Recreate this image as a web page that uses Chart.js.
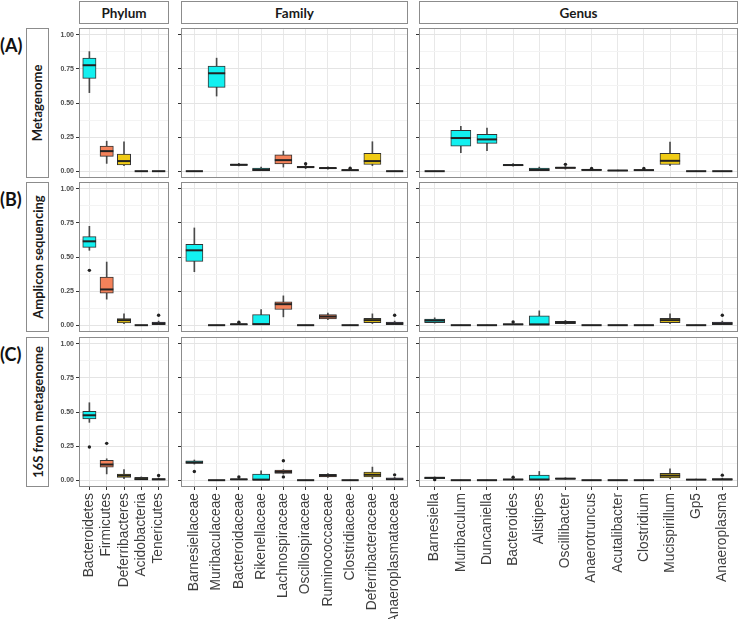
<!DOCTYPE html>
<html>
<head>
<meta charset="utf-8">
<script src="https://cdn.jsdelivr.net/npm/chart.js@4.4.1/dist/chart.umd.min.js"></script>
<style>
  body { margin: 0; background: #fff; width: 740px; height: 619px; position: relative; overflow: hidden; font-family: Lato, 'Open Sans', sans-serif; }
  canvas { position: absolute; }
  .strip { position: absolute; box-sizing: border-box; border: 1px solid #8c8c8c; background: #fff;
           display: flex; align-items: center; justify-content: center; font-weight: bold; font-size: 13.5px; color: #1a1a1a; }
  .strip.v span { transform: rotate(-90deg); white-space: nowrap; font-size: 13px; }
  .tag { position: absolute; left: 0; font-weight: bold; font-size: 18px; color: #111; line-height: 20px; }
</style>
</head>
<body>
<script>
// ─── Categories ──────────────────────────────────────────────────────────────
const phylumLabels = ['Bacteroidetes', 'Firmicutes', 'Deferribacteres', 'Acidobacteria', 'Tenericutes'];
const familyLabels = ['Barnesiellaceae', 'Muribaculaceae', 'Bacteroidaceae', 'Rikenellaceae', 'Lachnospiraceae',
  'Oscillospiraceae', 'Ruminococcaceae', 'Clostridiaceae', 'Deferribacteraceae', 'Anaeroplasmataceae'];
const genusLabels = ['Barnesiella', 'Muribaculum', 'Duncaniella', 'Bacteroides', 'Alistipes', 'Oscillibacter',
  'Anaerotruncus', 'Acutalibacter', 'Clostridium', 'Mucispirillum', 'Gp5', 'Anaeroplasma'];
const levelTitles = ['Phylum', 'Family', 'Genus'];
const rowTitles = ['Metagenome', 'Amplicon sequencing', '16S from metagenome'];
const rowTags = ['(A)', '(B)', '(C)'];
const yTickValues = [0, 0.125, 0.25, 0.375, 0.5, 0.625, 0.75, 0.875, 1];
const yMajorTicks = [0, 0.25, 0.5, 0.75, 1];

// box stats per taxon: [lower whisker, Q1, median, Q3, upper whisker]
const metaPhylum = [[0.576, 0.68, 0.777, 0.829, 0.877], [0.057, 0.108, 0.147, 0.184, 0.22],
  [0.04, 0.046, 0.074, 0.125, 0.216], [0, 0, 0, 0, 0], [0, 0, 0, 0, 0]];
const metaFamily = [[0, 0, 0, 0, 0], [0.551, 0.615, 0.718, 0.77, 0.829], [0.038, 0.043, 0.047, 0.051, 0.058],
  [0, 0.003, 0.01, 0.022, 0.03], [0.03, 0.054, 0.081, 0.12, 0.147], [0.018, 0.025, 0.03, 0.035, 0.042],
  [0.014, 0.019, 0.023, 0.027, 0.031], [0.003, 0.006, 0.008, 0.01, 0.013], [0.04, 0.049, 0.074, 0.13, 0.216],
  [0, 0, 0, 0, 0]];
const metaGenus = [[0, 0, 0, 0, 0], [0.135, 0.184, 0.243, 0.299, 0.329], [0.15, 0.204, 0.233, 0.27, 0.316],
  [0.036, 0.041, 0.045, 0.049, 0.056], [0, 0.003, 0.01, 0.022, 0.03], [0.015, 0.02, 0.025, 0.029, 0.035],
  [0.004, 0.007, 0.009, 0.011, 0.014], [0.002, 0.004, 0.005, 0.006, 0.008], [0.003, 0.006, 0.008, 0.01, 0.013],
  [0.04, 0.049, 0.076, 0.13, 0.213], [0, 0, 0, 0, 0], [0, 0, 0, 0, 0]];

const ampPhylum = [[0.549, 0.571, 0.615, 0.649, 0.725], [0.191, 0.235, 0.262, 0.353, 0.463],
  [0.012, 0.017, 0.037, 0.049, 0.083], [0, 0, 0, 0, 0], [0, 0.003, 0.012, 0.022, 0.03]];
const ampFamily = [[0.392, 0.468, 0.549, 0.593, 0.713], [0, 0, 0, 0, 0], [0, 0.004, 0.007, 0.01, 0.014],
  [0, 0.002, 0.008, 0.078, 0.115], [0.061, 0.115, 0.154, 0.171, 0.215], [0, 0, 0, 0, 0],
  [0.04, 0.046, 0.063, 0.078, 0.088], [0, 0, 0, 0, 0], [0.012, 0.018, 0.037, 0.05, 0.083],
  [0, 0.003, 0.012, 0.022, 0.03]];
const ampGenus = [[0.015, 0.019, 0.034, 0.044, 0.054], [0, 0, 0, 0, 0], [0, 0, 0, 0, 0],
  [0, 0.003, 0.006, 0.009, 0.012], [0, 0.001, 0.006, 0.068, 0.105], [0.008, 0.012, 0.02, 0.029, 0.035],
  [0, 0, 0, 0, 0], [0, 0, 0, 0, 0], [0, 0, 0, 0, 0], [0.012, 0.018, 0.037, 0.05, 0.083], [0, 0, 0, 0, 0],
  [0, 0.003, 0.012, 0.022, 0.03]];

const s16Phylum = [[0.424, 0.449, 0.476, 0.505, 0.568], [0.046, 0.096, 0.115, 0.145, 0.157],
  [0.012, 0.02, 0.034, 0.044, 0.078], [0, 0.002, 0.008, 0.02, 0.024], [0, 0.002, 0.006, 0.012, 0.016]];
const s16Family = [[0.118, 0.123, 0.13, 0.142, 0.148], [0, 0, 0, 0, 0], [0, 0.003, 0.006, 0.009, 0.012],
  [0, 0.001, 0.004, 0.044, 0.069], [0.045, 0.049, 0.061, 0.074, 0.078], [0, 0, 0, 0, 0],
  [0.02, 0.024, 0.034, 0.042, 0.048], [0, 0, 0, 0, 0], [0.012, 0.024, 0.04, 0.059, 0.096],
  [0, 0.003, 0.007, 0.017, 0.02]];
const s16Genus = [[0.01, 0.012, 0.017, 0.022, 0.024], [0, 0, 0, 0, 0], [0, 0, 0, 0, 0],
  [0, 0.002, 0.005, 0.008, 0.01], [0, 0.002, 0.005, 0.037, 0.064], [0.006, 0.008, 0.011, 0.015, 0.018],
  [0, 0, 0, 0, 0], [0, 0, 0, 0, 0], [0, 0, 0, 0, 0], [0.012, 0.017, 0.034, 0.051, 0.083],
  [0, 0.002, 0.004, 0.006, 0.008], [0, 0.002, 0.005, 0.012, 0.015]];

// outliers: [category index, value]
const metaPhylumOut = [];
const metaFamilyOut = [[5, 0.054], [7, 0.021]];
const metaGenusOut = [[5, 0.05], [6, 0.02], [8, 0.02]];
const ampPhylumOut = [[0, 0.402], [4, 0.073]];
const ampFamilyOut = [[2, 0.022], [9, 0.073]];
const ampGenusOut = [[3, 0.024], [11, 0.073]];
const s16PhylumOut = [[0, 0.243], [1, 0.27], [4, 0.034]];
const s16FamilyOut = [[0, 0.064], [2, 0.024], [4, 0.142], [4, 0.024], [9, 0.039]];
const s16GenusOut = [[0, 0.004], [3, 0.022], [11, 0.037]];

// ─── Styles ──────────────────────────────────────────────────────────────────
const CYAN = '#12F0F0', CORAL = '#F4825A', GOLD = '#F0CB14', OLIVE = '#A9B84A', PURPLE = '#9C8AD8';
const phylumColors = [CYAN, CORAL, GOLD, OLIVE, PURPLE];
const familyColors = [CYAN, CYAN, CYAN, CYAN, CORAL, CORAL, CORAL, CORAL, GOLD, PURPLE];
const genusColors = [CYAN, CYAN, CYAN, CYAN, CYAN, CORAL, CORAL, CORAL, CORAL, GOLD, OLIVE, PURPLE];

const EXPAND = 0.6;
const panelX = [79, 181, 419];
const panelW = [90, 227, 319];
const panelY = [28, 182, 337];
const panelH = 150;
const xAxisH = 132;
const axisFont = "'Liberation Sans', Arial, sans-serif";

const levels = [phylumLabels, familyLabels, genusLabels];
const levelColors = [phylumColors, familyColors, genusColors];
const statsGrid = [[metaPhylum, metaFamily, metaGenus], [ampPhylum, ampFamily, ampGenus], [s16Phylum, s16Family, s16Genus]];
const outGrid = [[metaPhylumOut, metaFamilyOut, metaGenusOut], [ampPhylumOut, ampFamilyOut, ampGenusOut],
  [s16PhylumOut, s16FamilyOut, s16GenusOut]];

// panel border drawn over the plot area
const panelBorder = {
  id: 'panelBorder',
  afterDraw(chart) {
    const a = chart.chartArea, ctx = chart.ctx;
    ctx.save();
    ctx.strokeStyle = '#8c8c8c';
    ctx.lineWidth = 1;
    ctx.strokeRect(a.left + 0.5, a.top + 0.5, a.right - a.left - 1, a.bottom - a.top - 1);
    ctx.restore();
  }
};

// keep the plot area fixed: no label overhang padding
function zeroPad(s) {
  s.paddingLeft = 0; s.paddingRight = 0; s.paddingTop = 0; s.paddingBottom = 0;
}

function addDiv(cls, left, top, w, h, html) {
  const d = document.createElement('div');
  d.className = cls;
  Object.assign(d.style, { left: left + 'px', top: top + 'px', width: w + 'px', height: h + 'px' });
  d.innerHTML = html;
  document.body.appendChild(d);
}

function makePanel(r, c) {
  const labels = levels[c];
  const colors = levelColors[c];
  const stats = statsGrid[r][c];
  const outs = outGrid[r][c];
  const yW = c === 0 ? 24 : 4;
  const xH = r === 2 ? xAxisH : 0;

  const canvas = document.createElement('canvas');
  canvas.width = panelW[c] + yW;
  canvas.height = panelH + xH;
  canvas.style.left = (panelX[c] - yW) + 'px';
  canvas.style.top = panelY[r] + 'px';
  document.body.appendChild(canvas);

  const unit = panelW[c] / (labels.length - 1 + 2 * EXPAND);
  const boxW = unit * 0.77;

  new Chart(canvas, {
    type: 'bar',
    data: {
      datasets: [
        { // whiskers
          type: 'bar', order: 3, grouped: false,
          data: stats.map((s, i) => ({ x: i, y: [s[0], s[4]] })),
          backgroundColor: '#4a4a4a', barThickness: 1, borderWidth: 0,
        },
        { // boxes
          type: 'bar', order: 2, grouped: false,
          data: stats.map((s, i) => ({ x: i, y: [s[1], s[3]] })),
          backgroundColor: colors, borderColor: '#333', borderWidth: 1, borderSkipped: false,
          barThickness: boxW,
        },
        { // medians
          type: 'scatter', order: 1,
          data: stats.map((s, i) => ({ x: i, y: s[2] })),
          pointStyle: 'line', radius: boxW / 2, hoverRadius: boxW / 2,
          borderColor: '#222', borderWidth: 2,
        },
        { // outliers
          type: 'scatter', order: 0,
          data: outs.map(o => ({ x: o[0], y: o[1] })),
          pointStyle: 'circle', radius: 1.7, hoverRadius: 1.7,
          backgroundColor: '#222', borderWidth: 0,
        }
      ]
    },
    options: {
      responsive: false,
      devicePixelRatio: 1,
      animation: false,
      events: [],
      layout: { padding: 0, autoPadding: false },
      plugins: { legend: { display: false }, tooltip: { enabled: false } },
      scales: {
        x: {
          type: 'linear', offset: false,
          min: -EXPAND, max: labels.length - 1 + EXPAND,
          afterBuildTicks: s => { s.ticks = labels.map((_, i) => ({ value: i })); },
          afterFit: s => { s.height = xH; zeroPad(s); },
          ticks: {
            display: r === 2, autoSkip: false, minRotation: 90, maxRotation: 90, padding: 3,
            callback: v => labels[v],
            color: '#3d3d3d', font: { family: axisFont, size: 13.8 },
          },
          grid: { offset: false, color: '#e8e8e8', drawTicks: r === 2, tickLength: 3, tickColor: '#333' },
          border: { display: false },
        },
        y: {
          min: -0.05, max: 1.05, beginAtZero: false,
          afterBuildTicks: s => { s.ticks = yTickValues.map(v => ({ value: v })); },
          afterFit: s => { s.width = yW; zeroPad(s); },
          ticks: {
            autoSkip: false, padding: 2,
            callback: v => (c === 0 && yMajorTicks.includes(v)) ? v.toFixed(2) : '',
            color: '#4d4d4d', font: { family: axisFont, size: 7, weight: 'bold' },
          },
          grid: {
            color: ctx => yMajorTicks.includes(ctx.tick.value) ? '#e4e4e4' : '#f3f3f3',
            tickColor: ctx => yMajorTicks.includes(ctx.tick.value) ? '#333' : 'rgba(0,0,0,0)',
            tickLength: 3,
          },
          border: { display: false },
        }
      }
    },
    plugins: [panelBorder]
  });
}

// strips and row tags
levelTitles.forEach((t, c) => addDiv('strip', panelX[c], 1, panelW[c], 23, t));
rowTitles.forEach((t, r) => addDiv('strip v', 26, panelY[r], 23, panelH, '<span>' + t + '</span>'));
rowTags.forEach((t, r) => addDiv('tag', 0, panelY[r] + 7, 26, 20, t));

for (let r = 0; r < 3; r++) {
  for (let c = 0; c < 3; c++) makePanel(r, c);
}
</script>
</body>
</html>
